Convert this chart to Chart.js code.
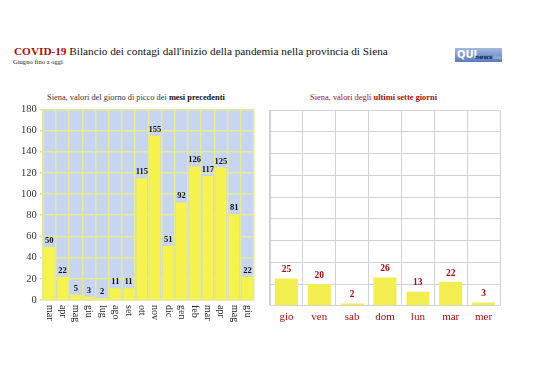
<!DOCTYPE html>
<html><head><meta charset="utf-8">
<script src="https://cdn.jsdelivr.net/npm/chart.js@4"></script>
<style>
html,body{margin:0;padding:0;background:#fff;width:538px;height:380px;overflow:hidden;font-family:"Liberation Serif",serif;}
.fit{position:absolute;white-space:nowrap;line-height:1}
#title{left:14px;top:45px;font-size:13px;color:#111}
#title b{color:#b00a0a}
#sub{left:13px;top:59px;font-size:7.5px;color:#222}
#t1{left:47px;top:93px;font-size:9.5px;color:#333}
#t2{left:310px;top:93px;font-size:9.5px;color:#a80c10}
#logo{position:absolute;left:455px;top:48px;width:47px;height:14px;background:linear-gradient(#a4b9de,#5b7cb9);font-family:"DejaVu Sans",sans-serif;white-space:nowrap;overflow:hidden}
#logo .q{color:#fff;font-weight:bold;font-size:10px;position:absolute;left:2px;top:1px}
#logo .n{color:#13305c;font-weight:bold;font-size:6px;position:absolute;left:20px;top:5px}
#logo .s{color:#c8d4ea;font-size:4px;position:absolute;left:38px;top:7px}
#c1{position:absolute;left:0;top:100px}
#c2{position:absolute;left:262px;top:100px}
</style></head><body>
<div class="fit" id="title" data-w="374"><b>COVID-19</b> Bilancio dei contagi dall'inizio della pandemia nella provincia di Siena</div>
<div class="fit" id="sub" data-w="50">Giugno fino a oggi</div>
<div id="logo"><span class="q">QUI</span><span class="n">news</span><span class="s">siena</span></div>
<div class="fit" id="t1" data-w="178">Siena, valori del giorno di picco dei <b style="color:#111">mesi precedenti</b></div>
<div class="fit" id="t2" data-w="127">Siena, valori degli <b>ultimi sette giorni</b></div>
<canvas id="c1" width="262" height="245"></canvas>
<canvas id="c2" width="250" height="245"></canvas>
<script>
document.querySelectorAll('.fit').forEach(el => {
  const target = +el.dataset.w;
  const fs = parseFloat(getComputedStyle(el).fontSize);
  const w = el.getBoundingClientRect().width;
  const top = parseFloat(getComputedStyle(el).top);
  const nfs = fs * target / w;
  el.style.fontSize = nfs.toFixed(2) + 'px';
  el.style.top = (top + (fs - nfs) / 2).toFixed(2) + 'px';
});

const monthLabels = ["mar","apr","mag","giu","lug","ago","set","ott","nov","dic","gen","feb","mar","apr","mag","giu"];
const monthValues = [50,22,5,3,2,11,11,115,155,51,92,126,117,125,81,22];
const dayLabels = ["gio","ven","sab","dom","lun","mar","mer"];
const dayValues = [25,20,2,26,13,22,3];
const yTicks = [0,20,40,60,80,100,120,140,160,180];

const SERIF = '"Liberation Serif", serif';

const valueLabels = {
  id:'valueLabels',
  afterDatasetsDraw(chart, args, opts){
    const ctx = chart.ctx;
    const meta = chart.getDatasetMeta(0);
    ctx.save();
    ctx.font = 'bold ' + opts.size + 'px ' + SERIF;
    ctx.fillStyle = opts.color;
    ctx.textAlign = 'center';
    ctx.textBaseline = 'bottom';
    meta.data.forEach((bar, i) => {
      ctx.fillText(String(chart.data.datasets[0].data[i]), bar.x, bar.y - opts.gap);
    });
    ctx.restore();
  }
};

const bgPlugin = {
  id:'plotBg',
  beforeDraw(chart, args, opts){
    if(!opts.color) return;
    const a = chart.chartArea, ctx = chart.ctx;
    ctx.save(); ctx.fillStyle = opts.color;
    ctx.fillRect(a.left, a.top, a.right - a.left, a.bottom - a.top);
    ctx.restore();
  }
};

const vertLabels = {
  id:'vertLabels',
  afterDraw(chart, args, opts){
    if(!opts.on) return;
    const ctx = chart.ctx, sx = chart.scales.x, a = chart.chartArea;
    ctx.save();
    ctx.font = opts.size + 'px ' + SERIF;
    ctx.fillStyle = opts.color;
    ctx.textAlign = 'left';
    ctx.textBaseline = 'middle';
    chart.data.labels.forEach((l, i) => {
      const x = sx.getPixelForTick(i);
      ctx.save();
      ctx.translate(x, a.bottom + 5);
      ctx.rotate(Math.PI / 2);
      ctx.fillText(l, 0, 0);
      ctx.restore();
    });
    ctx.restore();
  }
};

Chart.register(valueLabels, bgPlugin, vertLabels);

new Chart(document.getElementById('c1'), {
  type:'bar',
  data:{labels:monthLabels, datasets:[{data:monthValues, backgroundColor:'#f6f24e', barPercentage:0.82, categoryPercentage:1}]},
  options:{
    responsive:false, animation:false,
    layout:{padding:{top:5, bottom:45, right:8, left:18}},
    plugins:{legend:{display:false}, tooltip:{enabled:false},
      valueLabels:{size:8.5, color:'#111', gap:2},
      plotBg:{color:'#c8d5f1'},
      vertLabels:{on:true, size:10, color:'#222'}},
    scales:{
      x:{ticks:{display:false}, grid:{color:'#e6ea90', lineWidth:1.5, drawTicks:false, offset:true}, border:{color:'#e6ea90', width:1.5}},
      y:{min:0, max:180, afterBuildTicks(s){ s.ticks = yTicks.map(v => ({value:v})); },
         ticks:{font:{family:SERIF, size:10.5}, color:'#333', padding:3},
         grid:{color:'#e6ea90', lineWidth:1.5, tickColor:'#d8d8c0', tickLength:3}, border:{color:'#e6ea90', width:1.5}}
    }
  }
});

new Chart(document.getElementById('c2'), {
  type:'bar',
  data:{labels:dayLabels, datasets:[{data:dayValues, backgroundColor:'#f2ee52', barPercentage:0.7, categoryPercentage:1}]},
  options:{
    responsive:false, animation:false,
    layout:{padding:{top:10, bottom:16, right:12, left:8}},
    plugins:{legend:{display:false}, tooltip:{enabled:false},
      valueLabels:{size:9.5, color:'#a80c10', gap:4},
      vertLabels:{on:false}},
    scales:{
      x:{ticks:{font:{family:SERIF, size:11}, color:'#a80c10', padding:5, maxRotation:0},
         grid:{color:'#d2d2d2', drawTicks:false, offset:true}, border:{color:'#d2d2d2'}},
      y:{min:0, max:180, afterBuildTicks(s){ s.ticks = yTicks.map(v => ({value:v})); },
         ticks:{display:false}, grid:{color:'#d2d2d2', drawTicks:false}, border:{color:'#d2d2d2'}}
    }
  }
});
</script>
</body></html>
